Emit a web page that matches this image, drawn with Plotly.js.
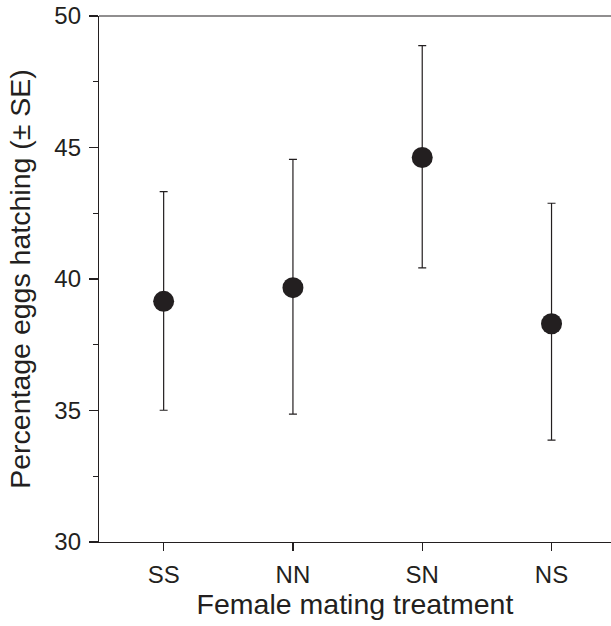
<!DOCTYPE html>
<html>
<head>
<meta charset="utf-8">
<script src="https://cdn.plot.ly/plotly-3.0.1.min.js"></script>
<style>html,body{margin:0;padding:0;background:#fff;overflow:hidden}#chart{width:611px;height:626px}</style>
</head>
<body>
<div id="chart"></div>
<script>
const categories = ["SS", "NN", "SN", "NS"];
const meanHatch = [39.15, 39.67, 44.62, 38.30];
const sePlus = [4.17, 4.88, 4.25, 4.58];
const seMinus = [4.14, 4.81, 4.20, 4.43];
const yTickVals = [30, 35, 40, 45, 50];
const yTickText = ["30", "35", "40", "45", "50"];

const ink = "#231f20";
const font = "'Liberation Sans', Arial, Helvetica, sans-serif";

const trace = {
  type: "scatter",
  mode: "markers",
  x: categories,
  y: meanHatch,
  marker: {size: 21, color: ink},
  error_y: {
    type: "data",
    symmetric: false,
    array: sePlus,
    arrayminus: seMinus,
    color: ink,
    thickness: 1.2,
    width: 4
  },
  cliponaxis: false,
  showlegend: false
};

const layout = {
  width: 611,
  height: 626,
  margin: {l: 99, r: 0, t: 16, b: 84},
  paper_bgcolor: "#fff",
  plot_bgcolor: "#fff",
  font: {family: font, color: ink, size: 24},
  xaxis: {
    type: "category",
    range: [-0.5, 3.46],
    showgrid: false,
    zeroline: false,
    showline: true,
    linecolor: ink,
    linewidth: 1.2,
    ticks: "outside",
    ticklen: 8,
    tickwidth: 1.2,
    tickcolor: ink,
    ticklabelstandoff: 3,
    tickfont: {size: 24, family: font, color: ink},
    title: {text: "Female mating treatment", font: {size: 28.5, family: font, color: ink}, standoff: 7}
  },
  yaxis: {
    range: [30, 50],
    tickmode: "array",
    tickvals: yTickVals,
    ticktext: yTickText,
    showgrid: false,
    zeroline: false,
    showline: true,
    linecolor: ink,
    linewidth: 1.2,
    ticks: "outside",
    ticklen: 9,
    tickwidth: 1.2,
    tickcolor: ink,
    ticklabelstandoff: 3,
    minor: {dtick: 2.5, tick0: 30, ticks: "outside", ticklen: 5, tickwidth: 1.2, tickcolor: ink, showgrid: false},
    tickfont: {size: 24, family: font, color: ink},
    title: {text: "Percentage eggs hatching (± SE)", font: {size: 28.5, family: font, color: ink}, standoff: 15}
  },
  shapes: [{
    type: "line", xref: "paper", yref: "paper",
    x0: 0, x1: 1, y0: 1, y1: 1,
    line: {color: ink, width: 1.2}
  }]
};

Plotly.newPlot("chart", [trace], layout, {displayModeBar: false, staticPlot: true});
</script>
</body>
</html>
